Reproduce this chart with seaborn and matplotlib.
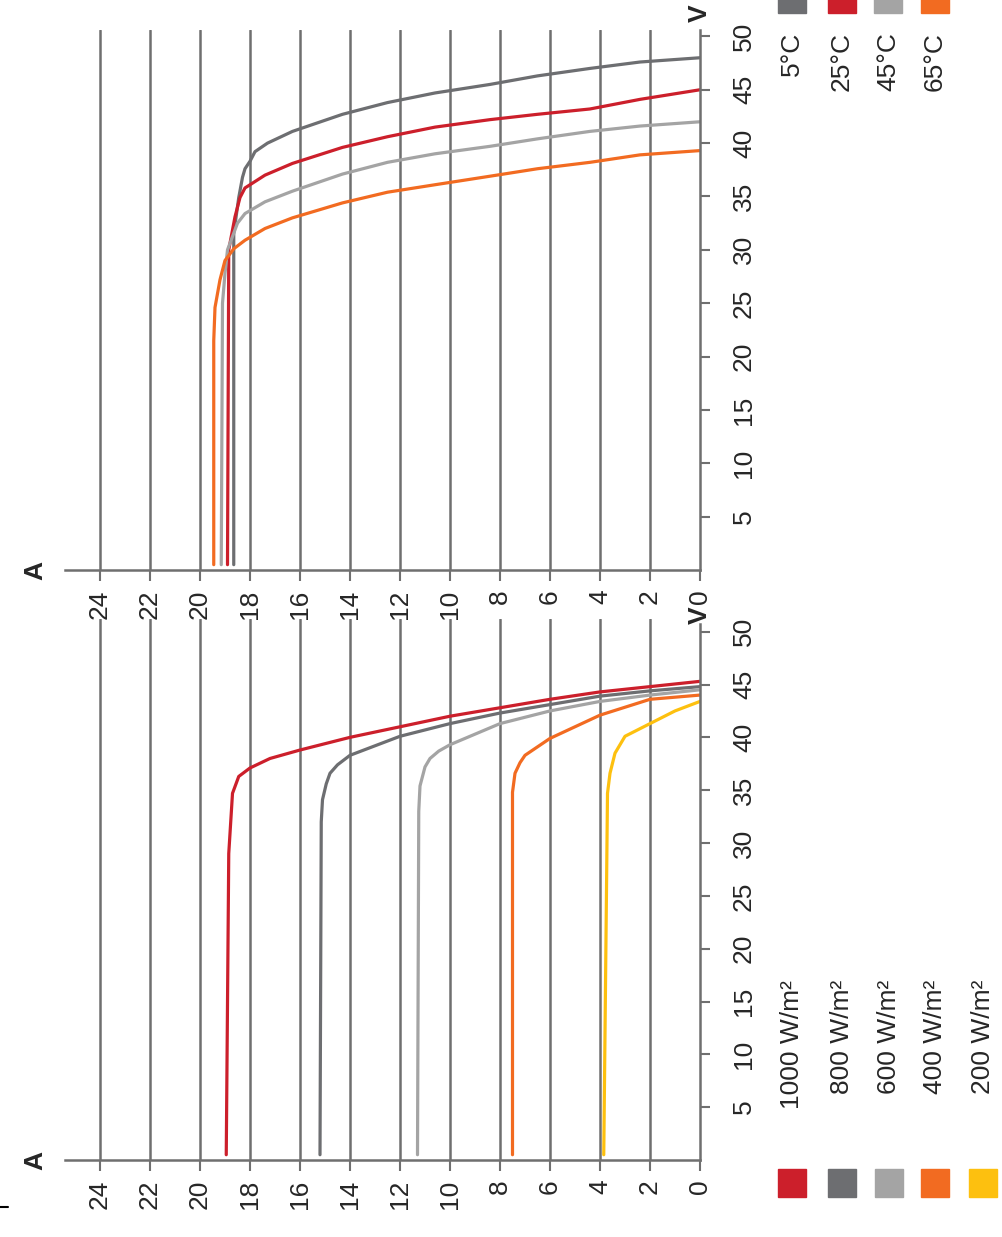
import numpy as np
import pandas as pd
import matplotlib
matplotlib.use('Agg')
import matplotlib.pyplot as plt
import seaborn as sns
from matplotlib.patches import Rectangle
from matplotlib.lines import Line2D

# I-V curves of a PV module, chart is drawn turned 90 degrees (V up, A to the left)

# temperature panel (top)
temp_labels = ['5°C', '25°C', '45°C', '65°C']
v_5c = [0.5, 31.5, 34.9, 36.8, 37.6, 38.3, 39.2, 40.0, 41.1, 42.7, 43.8, 44.7, 45.5, 46.3, 47.0, 47.6, 48.0]
i_5c = [18.65, 18.65, 18.45, 18.3, 18.2, 18.0, 17.8, 17.3, 16.3, 14.3, 12.5, 10.6, 8.4, 6.5, 4.4, 2.4, 0.0]
v_25c = [0.5, 30.0, 33.1, 34.9, 35.8, 37.0, 38.1, 39.6, 40.6, 41.5, 42.2, 42.7, 43.2, 44.1, 45.0]
i_25c = [18.9, 18.85, 18.6, 18.4, 18.2, 17.4, 16.3, 14.3, 12.5, 10.6, 8.4, 6.5, 4.4, 2.4, 0.0]
v_45c = [0.5, 25.0, 27.8, 30.0, 32.5, 33.4, 34.5, 35.5, 37.1, 38.2, 39.0, 39.7, 40.4, 41.1, 41.6, 42.0]
i_45c = [19.15, 19.1, 19.0, 18.9, 18.5, 18.2, 17.4, 16.3, 14.3, 12.5, 10.6, 8.4, 6.5, 4.4, 2.4, 0.0]
v_65c = [0.5, 21.5, 24.6, 27.2, 29.0, 30.1, 30.9, 32.0, 33.0, 34.4, 35.4, 36.1, 36.9, 37.6, 38.2, 38.9, 39.3]
i_65c = [19.45, 19.45, 19.4, 19.2, 19.0, 18.65, 18.2, 17.4, 16.3, 14.3, 12.5, 10.6, 8.4, 6.5, 4.4, 2.4, 0.0]

# irradiance panel (bottom)
irr_labels = ['1000 W/m²', '800 W/m²', '600 W/m²', '400 W/m²', '200 W/m²']
v_1000 = [0.5, 29.0, 34.7, 36.3, 37.1, 38.0, 38.8, 40.0, 41.0, 42.0, 42.8, 43.6, 44.3, 44.8, 45.3]
i_1000 = [18.95, 18.85, 18.7, 18.45, 18.0, 17.2, 16.0, 14.0, 12.0, 10.0, 8.0, 6.0, 4.0, 2.0, 0.0]
v_800 = [0.5, 32.0, 34.1, 35.6, 36.6, 37.4, 38.3, 40.1, 41.3, 42.3, 43.1, 43.9, 44.4, 44.8]
i_800 = [15.2, 15.15, 15.1, 14.95, 14.8, 14.5, 14.0, 12.0, 10.0, 8.0, 6.0, 4.0, 2.0, 0.0]
v_600 = [0.5, 33.0, 35.4, 37.2, 38.0, 38.7, 39.3, 41.3, 42.5, 43.4, 44.0, 44.5]
i_600 = [11.3, 11.25, 11.2, 11.0, 10.8, 10.45, 10.0, 8.0, 6.0, 4.0, 2.0, 0.0]
v_400 = [0.5, 34.8, 36.6, 37.6, 38.3, 39.9, 42.1, 43.6, 44.0]
i_400 = [7.5, 7.5, 7.4, 7.2, 7.0, 6.0, 4.0, 2.0, 0.0]
v_200 = [0.5, 34.7, 36.6, 38.5, 40.1, 41.3, 42.5, 43.4]
i_200 = [3.85, 3.7, 3.6, 3.4, 3.0, 2.0, 1.0, 0.0]

a_ticks = list(range(0, 25, 2))
v_ticks = list(range(5, 51, 5))

red = '#cc1f2b'
dgray = '#6d6e71'
lgray = '#a4a4a4'
orange = '#f26b21'
yellow = '#fdc00f'
grid = '#6f6f6f'
temp_colors = [dgray, red, lgray, orange]
irr_colors = [red, dgray, lgray, orange, yellow]

sns.set_style('white')
plt.rcParams['font.family'] = ['Liberation Sans', 'DejaVu Sans']

W, H = 1003, 1237
fig = plt.figure(figsize=(W / 100, H / 100), dpi=100)


def px_box(left, right, top, bottom):
    return [left / W, 1 - bottom / H, (right - left) / W, (bottom - top) / H]


def long_df(vs, cs, labels):
    parts = []
    for v, c, lab in zip(vs, cs, labels):
        parts.append(pd.DataFrame({'V': v, 'I': c, 'curve': lab}))
    return pd.concat(parts, ignore_index=True)


def style_axis(ax, vtop, spine_top, vlabel_y):
    ax.set_xlim(25.4, 0)
    ax.set_ylim(0, vtop)
    ax.set_xticks(a_ticks)
    ax.set_yticks(v_ticks)
    for a in a_ticks[1:]:
        ax.axvline(a, color=grid, lw=1.8, zorder=0)
    ax.spines['left'].set_visible(False)
    ax.spines['top'].set_visible(False)
    for s in ['bottom', 'right']:
        ax.spines[s].set_color(grid)
        ax.spines[s].set_linewidth(1.8)
    ax.spines['right'].set_bounds(0, spine_top)
    ax.yaxis.tick_right()
    ax.tick_params(axis='x', direction='out', length=8, width=1.5, color=grid,
                   pad=6, labelsize=19, labelrotation=90, bottom=True)
    ax.tick_params(axis='y', direction='out', length=7, width=1.5, color=grid,
                   pad=16, labelsize=19, labelrotation=90, right=True, left=False)
    for lbl in ax.get_yticklabels():
        lbl.set_va('center')
    ax.set_xlabel('')
    ax.set_ylabel('')
    ax.set_facecolor('none')
    ax.text(26.6, 0, 'A', rotation=90, ha='center', va='center', fontsize=19,
            fontweight='bold', clip_on=False)
    ax.text(0, vlabel_y, 'V', rotation=90, ha='center', va='center', fontsize=19,
            fontweight='bold', clip_on=False)


# top panel: temperature
ax_t = fig.add_axes(px_box(65, 700, 30, 570))
df_t = long_df([v_5c, v_25c, v_45c, v_65c], [i_5c, i_25c, i_45c, i_65c], temp_labels)
sns.lineplot(data=df_t, x='I', y='V', hue='curve', palette=temp_colors,
             sort=False, estimator=None, legend=False, linewidth=2.3, ax=ax_t)
style_axis(ax_t, 50.6, 50.6, 52.2)

# bottom panel: irradiance
ax_b = fig.add_axes(px_box(65, 700, 619, 1160))
df_b = long_df([v_1000, v_800, v_600, v_400, v_200],
               [i_1000, i_800, i_600, i_400, i_200], irr_labels)
sns.lineplot(data=df_b, x='I', y='V', hue='curve', palette=irr_colors,
             sort=False, estimator=None, legend=False, linewidth=2.3, ax=ax_b)
style_axis(ax_b, 51.2, 50.7, 51.6)

# legends (coloured squares + rotated labels)
sq = 28
for xc, lab, col in zip([792, 842, 888, 935], temp_labels, temp_colors):
    fig.add_artist(Rectangle(((xc - sq / 2) / W, 1 - 13 / H), sq / W, sq / H,
                             transform=fig.transFigure, color=col, clip_on=False))
    fig.text(xc / W, 1 - 32 / H, lab, rotation=90, rotation_mode='anchor',
             ha='right', va='center', fontsize=19)

for xc, lab, col in zip([792, 842, 889, 935, 983], irr_labels, irr_colors):
    fig.add_artist(Rectangle(((xc - sq / 2) / W, 1 - 1197 / H), sq / W, sq / H,
                             transform=fig.transFigure, color=col))
    fig.text(xc / W, 1 - 980 / H, lab, rotation=90, rotation_mode='anchor',
             ha='right', va='center', fontsize=19)

# small stray dash at the lower left corner of the original
fig.add_artist(Line2D([0, 8 / W], [1 - 1207 / H, 1 - 1207 / H],
                      transform=fig.transFigure, color='black', lw=1.5))

fig.savefig('out.png', dpi=100, facecolor='white')
